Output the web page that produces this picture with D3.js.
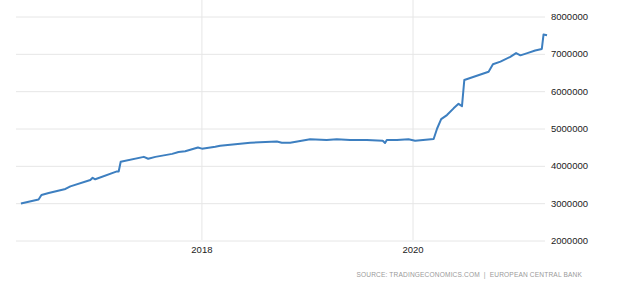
<!DOCTYPE html>
<html>
<head>
<meta charset="utf-8">
<script src="https://cdn.jsdelivr.net/npm/d3@7"></script>
<style>
  html, body { margin: 0; padding: 0; background: #fff; }
  svg { display: block; }
</style>
</head>
<body>
<div id="chart"></div>
<script>
// (dates approximate)
const dates = [
  '2016-04-17', '2016-06-17', '2016-06-27', '2016-07-22', '2016-09-18', '2016-10-05',
  '2016-12-13', '2016-12-21', '2016-12-30', '2017-03-15', '2017-03-21', '2017-03-28',
  '2017-06-16', '2017-07-01', '2017-07-26', '2017-09-22', '2017-10-14', '2017-11-06',
  '2017-12-20', '2018-01-03', '2018-02-18', '2018-03-07', '2018-06-19', '2018-09-19',
  '2018-10-06', '2018-11-04', '2019-01-12', '2019-03-10', '2019-04-14', '2019-05-30',
  '2019-07-27', '2019-09-20', '2019-09-28', '2019-10-04', '2019-11-08', '2019-12-18',
  '2020-01-10', '2020-03-14', '2020-03-26', '2020-04-09', '2020-04-29', '2020-05-22',
  '2020-06-08', '2020-06-20', '2020-06-28', '2020-09-20', '2020-10-05', '2020-10-31',
  '2020-12-04', '2020-12-24', '2021-01-08', '2021-02-01', '2021-02-28', '2021-03-23',
  '2021-03-29', '2021-04-10'
];
const values = [
  2990000, 3100000, 3220000, 3270000, 3380000, 3450000,
  3620000, 3680000, 3640000, 3850000, 3850000, 4110000,
  4240000, 4190000, 4240000, 4320000, 4370000, 4390000,
  4490000, 4460000, 4510000, 4540000, 4620000, 4650000,
  4620000, 4620000, 4710000, 4690000, 4710000, 4690000,
  4690000, 4670000, 4610000, 4690000, 4690000, 4710000,
  4670000, 4720000, 5000000, 5250000, 5360000, 5540000,
  5660000, 5600000, 6300000, 6520000, 6720000, 6790000,
  6920000, 7020000, 6960000, 7020000, 7090000, 7130000,
  7520000, 7500000
];
const yTicks = [2000000, 3000000, 4000000, 5000000, 6000000, 7000000, 8000000];
const xTickYears = [2018, 2020];
const sourceText = 'SOURCE: TRADINGECONOMICS.COM  |  EUROPEAN CENTRAL BANK';

const width = 620, height = 288;
const parse = d3.timeParse('%Y-%m-%d');
const data = dates.map((d, i) => ({ date: parse(d), value: values[i] }));

const svg = d3.select('#chart').append('svg')
  .attr('width', width)
  .attr('height', height);

const x = d3.scaleTime()
  .domain([parse('2016-03-31'), parse('2021-04-03')])
  .range([16, 545]);

const y = d3.scaleLinear()
  .domain([2000000, 8000000])
  .range([240.5, 16.5]);

// horizontal grid + right labels
const yAxis = d3.axisRight(y)
  .tickValues(yTicks)
  .tickSize(545 - 16)
  .tickFormat(d3.format('d'))
  .tickPadding(6);

svg.append('g')
  .attr('transform', 'translate(16,0)')
  .call(yAxis)
  .call(g => g.select('.domain').remove())
  .call(g => g.selectAll('.tick line').attr('stroke', '#e6e6e6'))
  .call(g => g.selectAll('.tick text')
    .attr('fill', '#222')
    .style('font-family', 'Liberation Sans, Arial, sans-serif')
    .style('font-size', '9.5px'));

// vertical year grid + bottom labels
const xAxis = d3.axisBottom(x)
  .tickValues(xTickYears.map(yr => new Date(yr, 0, 1)))
  .tickSize(240)
  .tickFormat(d3.timeFormat('%Y'))
  .tickPadding(6);

svg.append('g')
  .call(xAxis)
  .call(g => g.select('.domain').remove())
  .call(g => g.selectAll('.tick line').attr('stroke', '#e6e6e6'))
  .call(g => g.selectAll('.tick text')
    .attr('fill', '#222')
    .style('font-family', 'Liberation Sans, Arial, sans-serif')
    .style('font-size', '9.5px'));

const line = d3.line()
  .x(d => x(d.date))
  .y(d => y(d.value));

svg.append('path')
  .datum(data)
  .attr('fill', 'none')
  .attr('stroke', '#3d7fc0')
  .attr('stroke-width', 2)
  .attr('stroke-linejoin', 'round')
  .attr('d', line);

svg.append('text')
  .attr('x', 582)
  .attr('y', 277)
  .attr('text-anchor', 'end')
  .attr('fill', '#9a9a9a')
  .style('font-family', 'Liberation Sans, Arial, sans-serif')
  .style('font-size', '6.6px')
  .style('letter-spacing', '0.15px')
  .style('white-space', 'pre')
  .text(sourceText);
</script>
</body>
</html>
